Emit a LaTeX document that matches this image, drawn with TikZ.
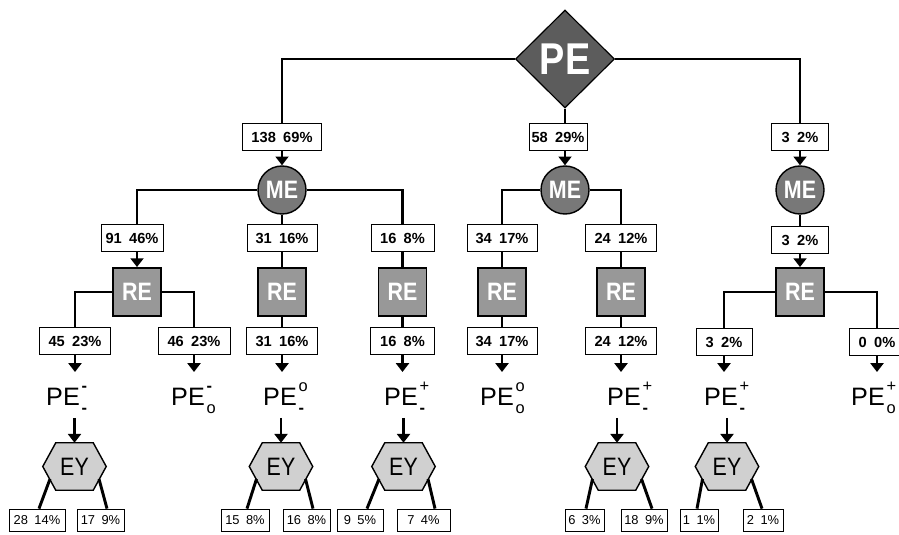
\documentclass[tikz,border=0pt]{standalone}
\usepackage{fontspec}
\setmainfont{Liberation Sans}
\newfontfamily\condfont{Liberation Sans}[FakeStretch=0.85]
\usetikzlibrary{shapes.geometric,arrows.meta,calc}
\pgfdeclarelayer{back}
\pgfdeclarelayer{bg}
\pgfsetlayers{back,bg,main}
\definecolor{pecol}{RGB}{92,92,92}
\definecolor{mecol}{RGB}{120,120,120}
\definecolor{recol}{RGB}{152,152,152}
\definecolor{eycol}{RGB}{208,208,208}
\newcommand\bx[2]{#1\hspace{0.5em}#2}
\newcommand\pel[2]{PE\hspace{1.5pt}\rlap{\raisebox{11.5pt}{\fontsize{14}{14}\selectfont #1}}\raisebox{-7pt}{\fontsize{14}{14}\selectfont #2}}
\newcommand\dsh{\textbf{-}}
\newcommand\hexat[1]{\draw[hexs] ([xshift=-0.39cm]#1.west) -- (#1.north west) -- (#1.north east) -- ([xshift=0.39cm]#1.east) -- (#1.south east) -- (#1.south west) -- cycle;}
\tikzset{
  conn/.style={line width=2.5pt},
  arr/.style={line width=2.5pt, -{Triangle[width=11pt,length=7.5pt]}},
  box/.style={draw=black, line width=0.8pt, fill=white, inner sep=0pt, minimum height=0.81cm, font=\fontsize{12.5}{13}\selectfont\bfseries},
  sbox/.style={draw=black, line width=0.7pt, fill=white, inner sep=0pt, minimum height=0.66cm, font=\fontsize{11}{12}\selectfont},
  diam/.style={diamond, draw=black, line width=1pt, fill=pecol, inner sep=0pt, minimum width=2.97cm, minimum height=2.94cm, text=white, font=\condfont\bfseries\fontsize{38}{38}\selectfont},
  mec/.style={circle, draw=black, line width=1.2pt, fill=mecol, minimum size=1.44cm, inner sep=0pt, text=white, font=\condfont\bfseries\fontsize{21.5}{22}\selectfont},
  res/.style={rectangle, draw=black, line width=1.6pt, fill=recol, minimum size=1.44cm, inner sep=0pt, text=white, font=\condfont\bfseries\fontsize{21.5}{22}\selectfont},
  eyn/.style={rectangle, inner sep=0pt, minimum width=1.11cm, minimum height=1.41cm, font=\condfont\fontsize{21.5}{22}\selectfont},
  hexs/.style={draw=black, line width=1.2pt, fill=eycol},
  pelab/.style={anchor=base west, inner sep=0pt, font=\fontsize{21.5}{22}\selectfont},
}
\begin{document}
\begin{tikzpicture}[x=0.03cm,y=-0.03cm]
\begin{pgfonlayer}{back}
\fill[white] (0,0) rectangle (899,535);
\end{pgfonlayer}
\useasboundingbox (0,0) rectangle (899,535);
% top
\node[diam] (PE) at (565,59) {PE};
\node[box, minimum width=2.37cm] (b1) at (282,137) {\bx{138}{69\%}};
\node[box, minimum width=1.74cm] (b2) at (558,137) {\bx{58}{29\%}};
\node[box, minimum width=1.71cm] (b3) at (800,137) {\bx{3}{2\%}};
\node[mec] (ME1) at (282,190) {ME};
\node[mec] (ME2) at (565,190) {ME};
\node[mec] (ME3) at (800,190) {ME};
% level 2
\node[box, minimum width=1.86cm] (c1) at (132,238) {\bx{91}{46\%}};
\node[box, minimum width=2.10cm] (c2) at (282,238) {\bx{31}{16\%}};
\node[box, minimum width=1.89cm] (c3) at (402.5,238) {\bx{16}{8\%}};
\node[box, minimum width=2.10cm] (c4) at (502,238) {\bx{34}{17\%}};
\node[box, minimum width=2.13cm] (c5) at (621,238) {\bx{24}{12\%}};
\node[box, minimum width=1.71cm] (c6) at (800,240) {\bx{3}{2\%}};
\node[res] (RE1) at (137,292) {RE};
\node[res] (RE2) at (282,292) {RE};
\node[res] (RE3) at (402.5,292) {RE};
\node[res] (RE4) at (502,292) {RE};
\node[res] (RE5) at (621,292) {RE};
\node[res] (RE6) at (800,292) {RE};
% level 3
\node[box, minimum width=2.13cm] (d1) at (75,341) {\bx{45}{23\%}};
\node[box, minimum width=2.16cm] (d2) at (194,341) {\bx{46}{23\%}};
\node[box, minimum width=2.13cm] (d3) at (282,341) {\bx{31}{16\%}};
\node[box, minimum width=1.92cm] (d4) at (402.5,341) {\bx{16}{8\%}};
\node[box, minimum width=2.10cm] (d5) at (502,341) {\bx{34}{17\%}};
\node[box, minimum width=2.13cm] (d6) at (621,341) {\bx{24}{12\%}};
\node[box, minimum width=1.68cm] (d7) at (724,342) {\bx{3}{2\%}};
\node[box, minimum width=1.68cm] (d8) at (877,342) {\bx{0}{0\%}};
\coordinate (t1) at (75,372);
\coordinate (t2) at (194,372);
\coordinate (t3) at (282,372);
\coordinate (t4) at (402.5,372);
\coordinate (t5) at (502,372);
\coordinate (t6) at (621,372);
\coordinate (t7) at (724,372);
\coordinate (t8) at (877,372);
% labels
\node[pelab] (pl1) at (46,405) {\pel{\dsh}{\dsh}};
\node[pelab] (pl2) at (171,405) {\pel{\dsh}{o}};
\node[pelab] (pl3) at (263,405) {\pel{o}{\dsh}};
\node[pelab] (pl4) at (384,405) {\pel{+}{\dsh}};
\node[pelab] (pl5) at (480,405) {\pel{o}{o}};
\node[pelab] (pl6) at (607,405) {\pel{+}{\dsh}};
\node[pelab] (pl7) at (704,405) {\pel{+}{\dsh}};
\node[pelab] (pl8) at (851,405) {\pel{+}{o}};
% EY
\node[eyn] (ey1) at (74.5,466.5) {EY};
\node[eyn] (ey2) at (281,466.5) {EY};
\node[eyn] (ey3) at (403.5,466.5) {EY};
\node[eyn] (ey4) at (617,466.5) {EY};
\node[eyn] (ey5) at (727,466.5) {EY};
\begin{pgfonlayer}{bg}
\hexat{ey1}\hexat{ey2}\hexat{ey3}\hexat{ey4}\hexat{ey5}
\end{pgfonlayer}
\foreach \i in {1,...,5} {\coordinate (s\i) at ([yshift=0.75cm]ey\i.north);}
% bottom boxes
\node[sbox, minimum width=1.68cm] (f1) at (37,520) {\bx{28}{14\%}};
\node[sbox, minimum width=1.41cm] (f2) at (100.5,520) {\bx{17}{9\%}};
\node[sbox, minimum width=1.44cm] (f3) at (245,520) {\bx{15}{8\%}};
\node[sbox, minimum width=1.41cm] (f4) at (306.5,520) {\bx{16}{8\%}};
\node[sbox, minimum width=1.38cm] (f5) at (360,520) {\bx{9}{5\%}};
\node[sbox, minimum width=1.59cm] (f6) at (423.5,520) {\bx{7}{4\%}};
\node[sbox, minimum width=1.17cm] (f7) at (584.5,520) {\bx{6}{3\%}};
\node[sbox, minimum width=1.38cm] (f8) at (644,520) {\bx{18}{9\%}};
\node[sbox, minimum width=1.14cm] (f9) at (699,520) {\bx{1}{1\%}};
\node[sbox, minimum width=1.20cm] (f10) at (763,520) {\bx{2}{1\%}};
% connectors top
\draw[conn] (PE.west) -| (b1.north);
\draw[conn] (PE.east) -| (b3.north);
\draw[conn] (PE.south) -- (PE.south |- b2.north);
\draw[arr] (b1.south) -- (ME1.north);
\draw[arr] (ME2.north |- b2.south) -- (ME2.north);
\draw[arr] (b3.south) -- (ME3.north);
% ME to level 2
\draw[conn] (ME1.west) -| (RE1.north |- c1.north);
\draw[conn] (ME1.south) -- (c2.north);
\draw[conn] (ME1.east) -| (c3.north);
\draw[conn] (ME2.west) -| (c4.north);
\draw[conn] (ME2.east) -| (c5.north);
\draw[conn] (ME3.south) -- (c6.north);
\draw[arr] (RE1.north |- c1.south) -- (RE1.north);
\draw[conn] (c2.south) -- (RE2.north);
\draw[conn] (c3.south) -- (RE3.north);
\draw[conn] (c4.south) -- (RE4.north);
\draw[conn] (c5.south) -- (RE5.north);
\draw[arr] (c6.south) -- (RE6.north);
% RE to level 3
\draw[conn] (RE1.west) -| (d1.north);
\draw[conn] (RE1.east) -| (d2.north);
\draw[conn] (RE2.south) -- (d3.north);
\draw[conn] (RE3.south) -- (d4.north);
\draw[conn] (RE4.south) -- (d5.north);
\draw[conn] (RE5.south) -- (d6.north);
\draw[conn] (RE6.west) -| (d7.north);
\draw[conn] (RE6.east) -| (d8.north);
\foreach \i in {1,...,8} {\draw[arr] (d\i.south) -- (t\i);}
% labels to EY
\foreach \i in {1,...,5} {\draw[arr] (s\i) -- (ey\i.north);}
% EY to bottom boxes
\draw[conn] ($(ey1.center)+(-24.5,12.5)$) -- ($(f1.north)+(2,0)$);
\draw[conn] ($(ey1.center)+(24.5,12.5)$) -- ($(f2.north)+(6.5,0)$);
\draw[conn] ($(ey2.center)+(-24.5,12.5)$) -- ($(f3.north)+(2,0)$);
\draw[conn] ($(ey2.center)+(24.5,12.5)$) -- ($(f4.north)+(6.5,0)$);
\draw[conn] ($(ey3.center)+(-24.5,12.5)$) -- ($(f5.north)+(7,0)$);
\draw[conn] ($(ey3.center)+(24.5,12.5)$) -- ($(f6.north)+(11.5,0)$);
\draw[conn] ($(ey4.center)+(-24.5,12.5)$) -- ($(f7.north)+(1.5,0)$);
\draw[conn] ($(ey4.center)+(24.5,12.5)$) -- ($(f8.north)+(8,0)$);
\draw[conn] ($(ey5.center)+(-24.5,12.5)$) -- ($(f9.north)+(-2,0)$);
\draw[conn] ($(ey5.center)+(24.5,12.5)$) -- ($(f10.north)+(-1,0)$);
\end{tikzpicture}
\end{document}
